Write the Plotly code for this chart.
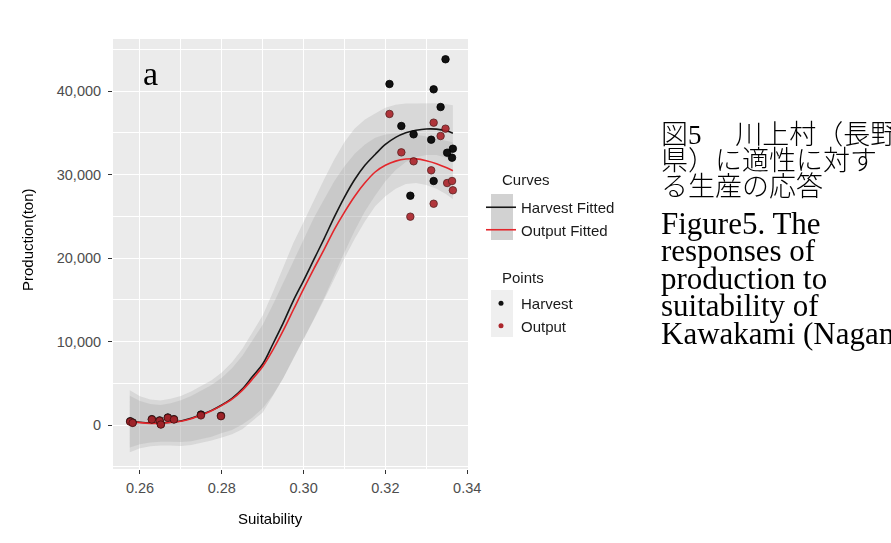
import plotly.graph_objects as go

# ---------------- data ----------------
fit_x = [0.2575, 0.26, 0.2625, 0.265, 0.2675, 0.27, 0.2725, 0.275, 0.2775, 0.28,
         0.2825, 0.285, 0.2875, 0.29, 0.2925, 0.295, 0.2975, 0.30, 0.3025, 0.305,
         0.3075, 0.31, 0.3125, 0.315, 0.3175, 0.32, 0.3225, 0.325, 0.3275, 0.33,
         0.3325, 0.335, 0.3365]
harvest_fit = [450, 330, 250, 240, 330, 480, 800, 1250, 1750, 2400,
               3200, 4300, 5800, 7300, 9700, 12200, 14900, 17300, 19800, 22300,
               24900, 27300, 29400, 31100, 32400, 33600, 34450, 35000, 35300, 35450,
               35430, 35200, 34950]
output_fit = [400, 280, 200, 200, 300, 450, 760, 1200, 1700, 2350,
              3100, 4150, 5500, 7000, 9000, 11300, 13800, 16300, 18700, 21000,
              23400, 25500, 27400, 29000, 30300, 31100, 31600, 31850, 31870, 31650,
              31300, 30800, 30450]
harvest_band = [3700, 3100, 2800, 2700, 2800, 3000, 3200, 3400, 3600, 3900,
                4300, 4800, 5300, 5800, 6200, 6600, 6900, 7000, 7100, 7100,
                6900, 6600, 6100, 5500, 4900, 4400, 3900, 3500, 3200, 3100,
                3100, 3200, 3350]
output_band = [3100, 2600, 2300, 2200, 2300, 2500, 2700, 2900, 3100, 3300,
               3700, 4100, 4600, 5000, 5400, 5700, 5900, 6000, 6100, 6000,
               5800, 5500, 5100, 4600, 4100, 3700, 3300, 3000, 2900, 2900,
               3000, 3200, 3400]

harvest_x = [0.2576, 0.2582, 0.2629, 0.2648, 0.2651, 0.2668, 0.2683, 0.2749, 0.2798,
             0.3210, 0.3239, 0.3269, 0.3261, 0.3312, 0.3318, 0.3335, 0.3347, 0.3318,
             0.3365, 0.3363, 0.3351]
harvest_y = [450, 300, 700, 550, 100, 900, 700, 1250, 1100,
             40840, 35810, 34810, 27460, 34170, 40200, 38080, 43800, 29220,
             33090, 32010, 32610]
output_x = [0.2576, 0.2582, 0.2629, 0.2648, 0.2651, 0.2668, 0.2683, 0.2749, 0.2798,
            0.3210, 0.3239, 0.3269, 0.3261, 0.3312, 0.3318, 0.3335, 0.3347, 0.3318,
            0.3351, 0.3363, 0.3365]
output_y = [400, 250, 650, 500, 50, 850, 650, 1150, 1050,
            37250, 32650, 31580, 24950, 30500, 36210, 34610, 35490, 26500,
            28980, 29220, 28110]

x_ticks = [0.26, 0.28, 0.30, 0.32, 0.34]
x_tick_labels = ["0.26", "0.28", "0.30", "0.32", "0.34"]
y_ticks = [0, 10000, 20000, 30000, 40000]
y_tick_labels = ["0", "10,000", "20,000", "30,000", "40,000"]

caption_jp = ["図5　 川上村（長野", "県）に適性に対す", "る生産の応答"]
caption_en = ["Figure5. The", "responses of", "production to", "suitability of",
              "Kawakami (Nagano"]

# ---------------- figure ----------------
W, H = 891, 543
L, R, T, B = 113, 468, 39, 469

def px_x(p):
    return (p - L) / (R - L)

def px_y(p):
    return (B - p) / (B - T)

band_fill = "rgba(153,153,153,0.24)"
fig = go.Figure()

for fit, band in [(harvest_fit, harvest_band), (output_fit, output_band)]:
    upper = [f + b for f, b in zip(fit, band)]
    lower = [f - b for f, b in zip(fit, band)]
    fig.add_trace(go.Scatter(x=fit_x, y=upper, mode="lines", line=dict(width=0),
                             showlegend=False, hoverinfo="skip"))
    fig.add_trace(go.Scatter(x=fit_x, y=lower, mode="lines", line=dict(width=0),
                             fill="tonexty", fillcolor=band_fill,
                             showlegend=False, hoverinfo="skip"))

fig.add_trace(go.Scatter(x=fit_x, y=harvest_fit, mode="lines", name="Harvest Fitted",
                         line=dict(color="#161616", width=1.6, shape="spline"),
                         legend="legend", legendgroup="c1"))
fig.add_trace(go.Scatter(x=fit_x, y=output_fit, mode="lines", name="Output Fitted",
                         line=dict(color="#E3262B", width=1.6, shape="spline"),
                         legend="legend", legendgroup="c2"))

fig.add_trace(go.Scatter(x=harvest_x, y=harvest_y, mode="markers", name="Harvest",
                         marker=dict(color="#111111", size=7.5,
                                     line=dict(color="#000000", width=0.8)),
                         showlegend=False))
fig.add_trace(go.Scatter(x=output_x, y=output_y, mode="markers", name="Output",
                         marker=dict(color="#AC262C", size=7.5,
                                     line=dict(color="#4A1212", width=0.8)),
                         opacity=0.92, showlegend=False))
# legend entries for points (smaller key symbols, as in the reference)
fig.add_trace(go.Scatter(x=[None], y=[None], mode="markers", name="Harvest",
                         marker=dict(color="#111111", size=5),
                         legend="legend2", legendgroup="p1"))
fig.add_trace(go.Scatter(x=[None], y=[None], mode="markers", name="Output",
                         marker=dict(color="#AC262C", size=5),
                         legend="legend2", legendgroup="p2"))

tick_font = dict(family="Liberation Sans, Arial", size=14.5, color="#4D4D4D")
fig.update_xaxes(range=[0.2534, 0.3402], tickvals=x_ticks, ticktext=x_tick_labels,
                 showgrid=True, gridcolor="white", gridwidth=1.1,
                 minor=dict(dtick=0.01, tick0=0.25, showgrid=True, gridcolor="white",
                            gridwidth=1.1, ticks=""),
                 ticks="outside", ticklen=4, tickcolor="#333333", tickwidth=1,
                 tickfont=tick_font, zeroline=False, showline=False,
                 ticklabelstandoff=2)
fig.update_yaxes(range=[-5270, 46228], tickvals=y_ticks, ticktext=y_tick_labels,
                 showgrid=True, gridcolor="white", gridwidth=1.1,
                 minor=dict(dtick=5000, tick0=0, showgrid=True, gridcolor="white",
                            gridwidth=1.1, ticks=""),
                 ticks="outside", ticklen=4, tickcolor="#333333", tickwidth=1,
                 tickfont=tick_font, zeroline=False, showline=False,
                 ticklabelstandoff=4)

legend_font = dict(family="Liberation Sans, Arial", size=15, color="#1A1A1A")
fig.update_layout(
    width=W, height=H,
    margin=dict(l=L, r=W - R, t=T, b=H - B, pad=0, autoexpand=False),
    paper_bgcolor="white", plot_bgcolor="#EBEBEB",
    legend=dict(xref="container", yref="container",
                x=481 / W, y=1 - 191 / H, xanchor="left", yanchor="top",
                bgcolor="rgba(0,0,0,0)", font=legend_font, itemwidth=30,
                tracegroupgap=0),
    legend2=dict(xref="container", yref="container",
                 x=481 / W, y=1 - 287 / H, xanchor="left", yanchor="top",
                 bgcolor="rgba(0,0,0,0)", font=legend_font, itemwidth=30,
                 tracegroupgap=0),
    shapes=[
        dict(type="rect", xref="paper", yref="paper", layer="below",
             x0=px_x(491), x1=px_x(513), y0=px_y(240), y1=px_y(194),
             fillcolor="#D2D2D2", line=dict(width=0)),
        dict(type="rect", xref="paper", yref="paper", layer="below",
             x0=px_x(491), x1=px_x(513), y0=px_y(337), y1=px_y(290),
             fillcolor="#EFEFEF", line=dict(width=0)),
    ],
)

ann = [
    dict(text="a", x=px_x(150), y=px_y(73), font=dict(family="Liberation Serif", size=34, color="black")),
    dict(text="Suitability", x=px_x(270), y=px_y(518), font=dict(family="Liberation Sans, Arial", size=15, color="black")),
    dict(text="Production(ton)", x=px_x(27), y=px_y(240), textangle=-90,
         font=dict(family="Liberation Sans, Arial", size=15, color="black")),
    dict(text="Curves", x=px_x(500), y=px_y(179), xanchor="left", font=legend_font),
    dict(text="Points", x=px_x(500), y=px_y(277), xanchor="left", font=legend_font),
]
for i, line in enumerate(caption_jp):
    ann.append(dict(text=line, x=px_x(659), y=px_y(135 + 26 * i), xanchor="left",
                    font=dict(family="Liberation Serif, Noto Sans CJK JP", size=27,
                              weight=300, color="black")))
for i, line in enumerate(caption_en):
    ann.append(dict(text=line, x=px_x(659), y=px_y(223 + 27.5 * i), xanchor="left",
                    font=dict(family="Liberation Serif", size=31, color="black")))
for a in ann:
    a.setdefault("xanchor", "center")
    a.update(xref="paper", yref="paper", showarrow=False, yanchor="middle")
fig.update_layout(annotations=ann)

fig.write_html("out.html", config={"displayModeBar": False},
               post_script="document.body.style.margin='0';")
